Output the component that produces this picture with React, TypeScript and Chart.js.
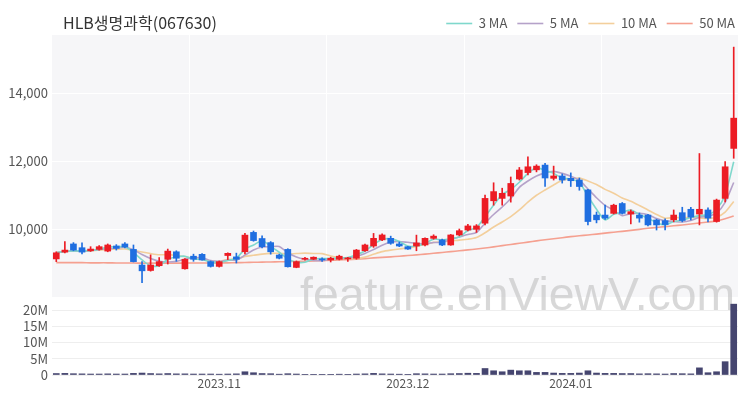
import { useEffect, useRef } from "react";
import { Chart, registerables } from "chart.js";

Chart.register(...registerables);

const TITLE = "HLB생명과학(067630)";

const dates = [
  "2023-10-04", "2023-10-05", "2023-10-06", "2023-10-10", "2023-10-11", "2023-10-12", "2023-10-13", "2023-10-16", "2023-10-17", "2023-10-18",
  "2023-10-19", "2023-10-20", "2023-10-23", "2023-10-24", "2023-10-25", "2023-10-26", "2023-10-27", "2023-10-30", "2023-10-31",
  "2023-11-01", "2023-11-02", "2023-11-03", "2023-11-06", "2023-11-07", "2023-11-08", "2023-11-09", "2023-11-10", "2023-11-13", "2023-11-14",
  "2023-11-15", "2023-11-16", "2023-11-17", "2023-11-20", "2023-11-21", "2023-11-22", "2023-11-23", "2023-11-24", "2023-11-27", "2023-11-28",
  "2023-11-29", "2023-11-30",
  "2023-12-01", "2023-12-04", "2023-12-05", "2023-12-06", "2023-12-07", "2023-12-08", "2023-12-11", "2023-12-12", "2023-12-13", "2023-12-14",
  "2023-12-15", "2023-12-18", "2023-12-19", "2023-12-20", "2023-12-21", "2023-12-22", "2023-12-26", "2023-12-27", "2023-12-28",
  "2024-01-02", "2024-01-03", "2024-01-04", "2024-01-05", "2024-01-08", "2024-01-09", "2024-01-10", "2024-01-11", "2024-01-12", "2024-01-15",
  "2024-01-16", "2024-01-17", "2024-01-18", "2024-01-19", "2024-01-22", "2024-01-23", "2024-01-24", "2024-01-25", "2024-01-26", "2024-01-29",
];

const monthTickLabels: Record<string, string> = {
  "2023-11-01": "2023.11",
  "2023-12-01": "2023.12",
  "2024-01-02": "2024.01",
};

const opens = [
  9120, 9320, 9560, 9450, 9360, 9400, 9350, 9500, 9560, 9400,
  8940, 8780, 8920, 9110, 9330, 8830, 9200, 9255, 9040, 8900,
  9220, 9180, 9330, 9900, 9720, 9600, 9235, 9400, 8870, 9110,
  9110, 9120, 9090, 9110, 9120, 9140, 9360, 9500, 9680, 9725,
  9560, 9480, 9500, 9530, 9725, 9680, 9530, 9825, 9970, 9990,
  10170, 10830, 10900, 10970, 11470, 11660, 11740, 11880, 11490, 11560,
  11490, 11440, 11150, 10410, 10410, 10460, 10750, 10440, 10410, 10410,
  10265, 10245, 10270, 10480, 10580, 10440, 10560, 10220, 10900, 12370,
];
const highs = [
  9330, 9630, 9600, 9590, 9480, 9510, 9560, 9540, 9600, 9530,
  9040, 9240, 9160, 9410, 9360, 9130, 9260, 9280, 9060, 9060,
  9300, 9290, 9870, 9940, 9800, 9630, 9260, 9420, 9060, 9170,
  9180, 9150, 9170, 9230, 9170, 9400, 9560, 9870, 9860, 9790,
  9620, 9490, 9820, 9740, 9830, 9700, 9840, 10000, 10140, 10130,
  11000, 11360, 11200, 11530, 11810, 12120, 11890, 11930, 11850, 11620,
  11650, 11500, 11170, 10500, 10700, 10730, 10780, 10560, 10470, 10430,
  10290, 10300, 10560, 10640, 10640, 12220, 10620, 10880, 11980, 15350,
];
const lows = [
  9040, 9300, 9360, 9270, 9340, 9380, 9330, 9380, 9440, 9030,
  8420, 8760, 8900, 8970, 9050, 8820, 9050, 9080, 8880, 8880,
  9100, 9000, 9270, 9640, 9440, 9260, 9120, 8880, 8860, 9080,
  9100, 9050, 9030, 9090, 9050, 9110, 9340, 9460, 9660, 9550,
  9480, 9400, 9360, 9500, 9700, 9510, 9520, 9800, 9940, 9900,
  10120, 10700, 10700, 10790, 11440, 11590, 11680, 11250, 11440, 11350,
  11250, 11140, 10120, 10180, 10280, 10440, 10440, 10150, 10200, 10090,
  9970, 9970, 10210, 10210, 10270, 10120, 10210, 10200, 10800, 12080,
];
const closes = [
  9300, 9380, 9380, 9320, 9410, 9480, 9530, 9430, 9470, 9040,
  8770, 8940, 9040, 9350, 9140, 9110, 9110, 9090, 8900, 9040,
  9285, 9110, 9820, 9660, 9480, 9330, 9140, 8890, 9040, 9140,
  9170, 9090, 9140, 9200, 9150, 9380, 9530, 9725, 9825, 9580,
  9500, 9410, 9590, 9725, 9790, 9530, 9825, 9950, 10090, 10090,
  10900, 11100, 11050, 11340, 11735, 11830, 11850, 11500, 11560, 11440,
  11420, 11250, 10220, 10270, 10320, 10700, 10460, 10510, 10320, 10120,
  10120, 10130, 10410, 10250, 10350, 10580, 10320, 10850, 11830, 13260,
];
const ma50 = [
  9010, 9010, 9010, 9010, 9005, 9005, 9005, 9000, 9000, 9000,
  8995, 8995, 8995, 8995, 8995, 9000, 9000, 9000, 9000, 9000,
  9005, 9010, 9015, 9020, 9025, 9030, 9035, 9040, 9045, 9050,
  9060, 9070, 9080, 9090, 9100, 9115, 9130, 9150, 9165, 9180,
  9200, 9220, 9240, 9260, 9285, 9310, 9335, 9360, 9385, 9410,
  9440, 9475, 9510, 9545, 9580, 9615, 9650, 9685, 9715, 9745,
  9775, 9800, 9825, 9850, 9880, 9905, 9930, 9960, 9990, 10020,
  10045, 10070, 10095, 10120, 10145, 10175, 10205, 10240, 10300, 10380,
];
const volumes = [
  450000, 500000, 400000, 350000, 300000, 300000, 350000, 300000, 300000, 500000,
  600000, 450000, 350000, 450000, 350000, 350000, 300000, 300000, 300000, 250000,
  300000, 350000, 1000000, 700000, 450000, 400000, 250000, 400000, 300000, 200000,
  200000, 200000, 200000, 250000, 200000, 300000, 350000, 500000, 350000, 300000,
  250000, 200000, 400000, 350000, 300000, 300000, 400000, 450000, 550000, 500000,
  2000000, 1300000, 1000000, 1500000, 1300000, 1300000, 800000, 800000, 600000, 500000,
  500000, 600000, 1300000, 600000, 500000, 500000, 450000, 450000, 350000, 400000,
  350000, 300000, 450000, 400000, 350000, 2200000, 700000, 1000000, 4100000, 21800000,
];

const priceTicks = [10000, 12000, 14000];
const volumeTicks = [0, 5000000, 10000000, 15000000, 20000000];

const UP = "#ec1c24";
const DOWN = "#1f6ee0";
const VOL = "#45456f";
const FONT = '"Noto Sans CJK KR", "Noto Sans", sans-serif';

function movingAverage(src: number[], n: number) {
  return src.map((_, i) => {
    const w = src.slice(Math.max(0, i - n + 1), i + 1);
    return w.reduce((a, b) => a + b, 0) / w.length;
  });
}

const decorPlugin = {
  id: "decor",
  afterLayout(chart: any) {
    const lg = chart.legend;
    if (lg) {
      lg.left += 7;
      lg.right += 7;
    }
  },
  beforeDraw(chart: any) {
    const { ctx, chartArea } = chart;
    const y = chart.scales.y;
    ctx.save();
    ctx.fillStyle = "#f6f6f8";
    ctx.fillRect(chartArea.left, y.top, chartArea.right - chartArea.left, y.bottom - y.top);
    ctx.strokeStyle = "#ffffff";
    ctx.lineWidth = 1;
    for (let k = 1; k < 5; k++) {
      const x = Math.round(chartArea.left + ((chartArea.right - chartArea.left) * k) / 5) + 0.5;
      ctx.beginPath();
      ctx.moveTo(x, y.top);
      ctx.lineTo(x, y.bottom);
      ctx.stroke();
    }
    ctx.restore();
  },
  beforeDatasetsDraw(chart: any) {
    const { ctx, chartArea } = chart;
    const y = chart.scales.y;
    ctx.save();
    const text = "feature.enViewV.com";
    ctx.font = '40px "Liberation Sans", Arial, sans-serif';
    const w = ctx.measureText(text).width;
    const size = (40 * 435) / w;
    ctx.font = `${size}px "Liberation Sans", Arial, sans-serif`;
    ctx.fillStyle = "rgba(200,200,200,0.7)";
    ctx.textAlign = "right";
    ctx.textBaseline = "middle";
    ctx.fillText(text, chartArea.right - 3, y.bottom);
    ctx.restore();
  },
  afterDraw(chart: any) {
    const { ctx } = chart;
    ctx.save();
    ctx.font = `16px ${FONT}`;
    ctx.fillStyle = "#333333";
    ctx.textAlign = "left";
    ctx.textBaseline = "alphabetic";
    ctx.fillText(TITLE, 63, 29);
    ctx.restore();
  },
};

export default function App() {
  const ref = useRef<HTMLCanvasElement | null>(null);

  useEffect(() => {
    document.body.style.margin = "0";
    if (!ref.current) return;
    const candleColors = closes.map((c, i) => (c >= opens[i] ? UP : DOWN));
    const chart = new Chart(ref.current, {
      type: "bar",
      data: {
        labels: dates,
        datasets: [
          {
            type: "line",
            label: "3 MA",
            data: movingAverage(closes, 3),
            borderColor: "#7fd8cc",
            backgroundColor: "#7fd8cc",
            borderWidth: 1.6,
            pointRadius: 0,
            tension: 0.25,
            yAxisID: "y",
            order: 5,
          },
          {
            type: "line",
            label: "5 MA",
            data: movingAverage(closes, 5),
            borderColor: "#b5a2c9",
            backgroundColor: "#b5a2c9",
            borderWidth: 1.6,
            pointRadius: 0,
            tension: 0.25,
            yAxisID: "y",
            order: 6,
          },
          {
            type: "line",
            label: "10 MA",
            data: movingAverage(closes, 10),
            borderColor: "#f3cf9c",
            backgroundColor: "#f3cf9c",
            borderWidth: 1.6,
            pointRadius: 0,
            tension: 0.25,
            yAxisID: "y",
            order: 7,
          },
          {
            type: "line",
            label: "50 MA",
            data: ma50,
            borderColor: "#f5a090",
            backgroundColor: "#f5a090",
            borderWidth: 1.6,
            pointRadius: 0,
            tension: 0.25,
            yAxisID: "y",
            order: 8,
          },
          {
            type: "bar",
            label: "wick",
            data: lows.map((l, i) => [l, highs[i]]),
            backgroundColor: candleColors,
            barThickness: 1,
            grouped: false,
            borderWidth: 0,
            yAxisID: "y",
            order: 2,
          },
          {
            type: "bar",
            label: "body",
            data: opens.map((o, i) => [o, closes[i]]),
            backgroundColor: candleColors,
            barThickness: 6,
            minBarLength: 1,
            grouped: false,
            borderWidth: 0,
            yAxisID: "y",
            order: 1,
          },
          {
            type: "bar",
            label: "volume",
            data: volumes,
            backgroundColor: VOL,
            barThickness: 6,
            grouped: false,
            borderWidth: 0,
            yAxisID: "yv",
            order: 3,
          },
        ] as any,
      },
      options: {
        animation: false,
        responsive: false,
        events: [],
        layout: { padding: { top: 7, right: 12, bottom: 9, left: 0 } },
        plugins: {
          tooltip: { enabled: false },
          legend: {
            position: "top",
            align: "end",
            maxHeight: 28,
            labels: {
              filter: (item: any) => item.text.includes("MA"),
              usePointStyle: true,
              pointStyle: "line",
              pointStyleWidth: 26,
              padding: 10,
              color: "#555555",
              font: { size: 13, family: FONT },
            },
          } as any,
        },
        scales: {
          x: {
            type: "category",
            offset: true,
            grid: { display: false, drawTicks: false },
            border: { display: false },
            afterFit: (scale: any) => {
              scale.height = 16;
            },
            ticks: {
              autoSkip: false,
              maxRotation: 0,
              padding: 1,
              color: "#555555",
              font: { size: 12, family: FONT },
              callback: (_v: any, index: number) => monthTickLabels[dates[index]] ?? "",
            },
          },
          yv: {
            type: "linear",
            position: "left",
            stack: "panels",
            stackWeight: 78,
            min: 0,
            max: 24000000,
            afterBuildTicks: (scale: any) => {
              scale.ticks = volumeTicks.map((v) => ({ value: v }));
            },
            afterFit: (scale: any) => {
              scale.width = 52;
            },
            grid: { color: "#eeeeee", drawTicks: false },
            border: { display: false },
            ticks: {
              autoSkip: false,
              padding: 4,
              color: "#555555",
              font: { size: 13, family: FONT },
              callback: (v: any) => (Number(v) === 0 ? "0" : `${Number(v) / 1000000}M`),
            },
          },
          y: {
            type: "linear",
            position: "left",
            stack: "panels",
            stackWeight: 262,
            min: 8000,
            max: 15706,
            afterBuildTicks: (scale: any) => {
              scale.ticks = priceTicks.map((v) => ({ value: v }));
            },
            afterFit: (scale: any) => {
              scale.width = 52;
            },
            grid: { color: "#ffffff", drawTicks: false },
            border: { display: false },
            ticks: {
              autoSkip: false,
              padding: 4,
              color: "#555555",
              font: { size: 13, family: FONT },
              callback: (v: any) => Number(v).toLocaleString("en-US"),
            },
          },
        },
      } as any,
      plugins: [decorPlugin],
    });
    return () => chart.destroy();
  }, []);

  return (
    <div style={{ width: 750, height: 400 }}>
      <canvas ref={ref} width={750} height={400} style={{ display: "block" }} />
    </div>
  );
}
